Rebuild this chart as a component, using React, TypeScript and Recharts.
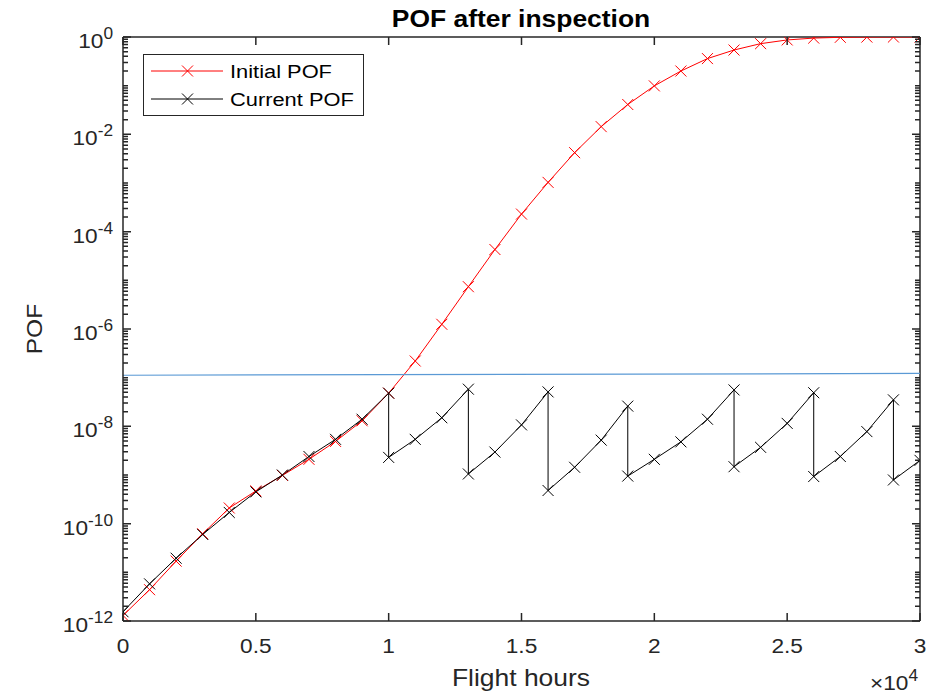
import { LineChart, Line, XAxis, YAxis, ReferenceLine, Legend } from "recharts";

const W = 938;
const H = 694;
const PL = 123;
const PR = 920;
const PT = 37;
const PB = 621;
const INK = "#262626";
const FONT = "'Liberation Sans', Arial, sans-serif";

// flight hours at each inspection step
const hours = [
  0, 1000, 2000, 3000, 4000, 5000, 6000, 7000, 8000, 9000, 10000, 11000, 12000,
  13000, 14000, 15000, 16000, 17000, 18000, 19000, 20000, 21000, 22000, 23000,
  24000, 25000, 26000, 27000, 28000, 29000, 30000,
];
const initialPof = [
  1.3e-12, 4.4e-12, 1.7e-11, 6.2e-11, 2.1e-10, 4.7e-10, 9.8e-10, 2.1e-9, 4.9e-9,
  1.3e-8, 4.8e-8, 2.2e-7, 1.25e-6, 7.4e-6, 4.3e-5, 2.3e-4, 1.03e-3, 4.2e-3,
  1.44e-2, 4.1e-2, 0.099, 0.2, 0.36, 0.54, 0.73, 0.87, 0.95, 0.985, 0.996, 0.999,
  1.0,
];

// current POF resets after each inspection (repeated hour = drop)
const currentHours = [
  0, 1000, 2000, 3000, 4000, 5000, 6000, 7000, 8000, 9000, 10000, 10000, 11000,
  12000, 13000, 13000, 14000, 15000, 16000, 16000, 17000, 18000, 19000, 19000,
  20000, 21000, 22000, 23000, 23000, 24000, 25000, 26000, 26000, 27000, 28000,
  29000, 29000, 30000,
];
const currentPof = [
  1.55e-12, 5.8e-12, 1.95e-11, 6e-11, 1.7e-10, 4.5e-10, 1.0e-9, 2.4e-9, 5.4e-9,
  1.4e-8, 4.8e-8, 2.3e-9, 5.4e-9, 1.5e-8, 5.8e-8, 1.05e-9, 2.96e-9, 1.07e-8,
  5.1e-8, 4.8e-10, 1.44e-9, 5.2e-9, 2.6e-8, 9.5e-10, 2.1e-9, 4.8e-9, 1.4e-8,
  5.6e-8, 1.48e-9, 3.7e-9, 1.15e-8, 4.9e-8, 9.3e-10, 2.4e-9, 7.8e-9, 3.5e-8,
  7.9e-10, 2.0e-9,
];

const thresholdHours = [0, 30000];
const thresholdPof = [1.12e-7, 1.22e-7];

const xTicks = [0, 5000, 10000, 15000, 20000, 25000, 30000];
const xTickLabels = ["0", "0.5", "1", "1.5", "2", "2.5", "3"];
const yMajorTicks = [1, 1e-2, 1e-4, 1e-6, 1e-8, 1e-10, 1e-12];
const yTickExponents = ["0", "-2", "-4", "-6", "-8", "-10", "-12"];

const yMinorTicks: number[] = [];
for (let k = -12; k < 0; k++) {
  for (let m = 1; m <= 9; m++) {
    if (m === 1 && k % 2 === 0) continue;
    yMinorTicks.push(m * Math.pow(10, k));
  }
}

const initialData = hours.map((h, i) => ({ h, pof: initialPof[i] }));
const currentData = currentHours.map((h, i) => ({ h, pof: currentPof[i] }));
const thresholdData = thresholdHours.map((h, i) => ({ h, pof: thresholdPof[i] }));

// MATLAB text looks a bit wide, so stretch horizontally
function SText({ x, y, sx = 1.1, rotate = 0, children, ...rest }: any) {
  const rot = rotate ? ` rotate(${rotate})` : "";
  return (
    <text
      transform={`translate(${x} ${y})${rot} scale(${sx} 1)`}
      fontFamily={FONT}
      fill={INK}
      {...rest}
    >
      {children}
    </text>
  );
}

function Cross({ cx, cy, color }: any) {
  if (cx == null || cy == null) return <g />;
  const r = 5.5;
  return (
    <g stroke={color} strokeWidth={1}>
      <line x1={cx - r} y1={cy - r} x2={cx + r} y2={cy + r} />
      <line x1={cx - r} y1={cy + r} x2={cx + r} y2={cy - r} />
    </g>
  );
}

// inward ticks on both left and right edges
function YTick({ y, payload }: any) {
  const idx = yMajorTicks.indexOf(payload.value);
  const len = idx >= 0 ? 8 : 5;
  return (
    <g>
      <path d={`M${PL},${y}h${len}M${PR},${y}h${-len}`} stroke={INK} strokeWidth={1.5} fill="none" />
      {idx >= 0 && (
        <SText x={113} y={y + 11} sx={1.08} textAnchor="end" fontSize={21}>
          <tspan>10</tspan>
          <tspan dy={-9} fontSize={16}>
            {yTickExponents[idx]}
          </tspan>
        </SText>
      )}
    </g>
  );
}

// inward ticks on both bottom and top edges
function XTick({ x, payload }: any) {
  const idx = xTicks.indexOf(payload.value);
  return (
    <g>
      <path d={`M${x},${PB}v-8M${x},${PT}v8`} stroke={INK} strokeWidth={1.5} fill="none" />
      <SText x={x} y={653} sx={1.08} textAnchor="middle" fontSize={21}>
        {xTickLabels[idx]}
      </SText>
    </g>
  );
}

function LegendBox() {
  const rows = [
    { label: "Initial POF", color: "#ff0000", y: 17 },
    { label: "Current POF", color: "#000000", y: 45 },
  ];
  return (
    <svg width={221} height={62}>
      <rect x={0.5} y={0.5} width={220} height={61} fill="#fff" stroke={INK} strokeWidth={1} />
      {rows.map((r) => (
        <g key={r.label}>
          <line x1={8} y1={r.y} x2={80} y2={r.y} stroke={r.color} strokeWidth={1} />
          <Cross cx={44.5} cy={r.y} color={r.color} />
          <SText x={87} y={r.y + 7} sx={1.15} fontSize={19} fill="#000">
            {r.label}
          </SText>
        </g>
      ))}
    </svg>
  );
}

export default function App() {
  return (
    <div style={{ position: "absolute", left: 0, top: 0, background: "#fff", fontFamily: FONT }}>
      <LineChart width={W} height={H} margin={{ top: PT, right: W - PR, bottom: 0, left: 0 }}>
        <XAxis
          dataKey="h"
          type="number"
          domain={[0, 30000]}
          ticks={xTicks}
          interval={0}
          allowDataOverflow
          tickLine={false}
          axisLine={{ stroke: INK, strokeWidth: 1.5 }}
          tick={<XTick />}
          height={H - PB}
        />
        <YAxis
          dataKey="pof"
          scale="log"
          domain={[1e-12, 1]}
          ticks={[...yMajorTicks, ...yMinorTicks]}
          interval={0}
          allowDataOverflow
          tickLine={false}
          axisLine={{ stroke: INK, strokeWidth: 1.5 }}
          tick={<YTick />}
          width={PL}
        />
        <ReferenceLine y={1} stroke={INK} strokeWidth={1.5} ifOverflow="visible" />
        <ReferenceLine x={30000} stroke={INK} strokeWidth={1.5} ifOverflow="visible" />
        <Legend
          layout="horizontal"
          verticalAlign="middle"
          align="center"
          content={() => <LegendBox />}
          wrapperStyle={{ left: 143, top: 54, width: 221, height: 62 }}
        />
        <Line
          data={initialData}
          dataKey="pof"
          stroke="#ff0000"
          strokeWidth={1}
          dot={(p: any) => <Cross key={p.index} cx={p.cx} cy={p.cy} color="#ff0000" />}
          isAnimationActive={false}
          name="Initial POF"
        />
        <Line
          data={currentData}
          dataKey="pof"
          stroke="#000000"
          strokeWidth={1}
          dot={(p: any) => <Cross key={p.index} cx={p.cx} cy={p.cy} color="#000000" />}
          isAnimationActive={false}
          name="Current POF"
        />
        <Line
          data={thresholdData}
          dataKey="pof"
          stroke="#5b9ad5"
          strokeWidth={1.2}
          dot={false}
          isAnimationActive={false}
          legendType="none"
        />
        <SText x={521} y={27} sx={1.15} textAnchor="middle" fontSize={23} fontWeight="bold" fill="#000">
          POF after inspection
        </SText>
        <SText x={42} y={329} rotate={-90} sx={1.12} textAnchor="middle" fontSize={22}>
          POF
        </SText>
        <SText x={521} y={686} sx={1.15} textAnchor="middle" fontSize={23}>
          Flight hours
        </SText>
        <SText x={918} y={690} sx={1.08} textAnchor="end" fontSize={21}>
          <tspan>×10</tspan>
          <tspan dy={-9} fontSize={16}>
            4
          </tspan>
        </SText>
      </LineChart>
    </div>
  );
}
